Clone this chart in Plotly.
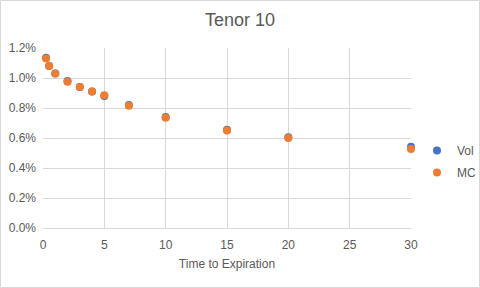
import plotly.graph_objects as go

x_vals = [0.25, 0.5, 1, 2, 3, 4, 5, 7, 10, 15, 20, 30]
vol = [0.01135, 0.0108, 0.0103, 0.0098, 0.0094, 0.0091, 0.0088, 0.0082, 0.0074, 0.00655, 0.00605, 0.00542]
mc = [0.0113, 0.0108, 0.0103, 0.00975, 0.0094, 0.0091, 0.00885, 0.00815, 0.00735, 0.0065, 0.006, 0.00527]

fig = go.Figure()
fig.add_trace(go.Scatter(x=x_vals, y=vol, mode="markers", name="Vol", legendgroup="a",
                         cliponaxis=False, marker=dict(color="#4472C4", size=8)))
fig.add_trace(go.Scatter(x=x_vals, y=mc, mode="markers", name="MC", legendgroup="b",
                         cliponaxis=False, marker=dict(color="#ED7D31", size=8)))

W, H = 480, 288
l, r, t, b = 43, 69, 48, 60
pw, ph = W - l - r, H - t - b

fig.update_layout(
    width=W, height=H,
    margin=dict(l=l, r=r, t=t, b=b, autoexpand=False),
    paper_bgcolor="white", plot_bgcolor="white",
    font=dict(family="Liberation Sans, Arial, sans-serif", color="#595959", size=12),
    title=dict(text="Tenor 10", x=0.5, xref="container", xanchor="center",
               y=1 - 20 / H, yref="container", yanchor="middle",
               font=dict(size=18, color="#595959")),
    xaxis=dict(range=[0, 30], dtick=5, showgrid=True, gridcolor="#D9D9D9", zeroline=False,
               showline=True, linecolor="#D9D9D9", ticks="", fixedrange=True,
               automargin=False, ticklabelstandoff=6,
               title=dict(text="Time to Expiration", font=dict(size=12, color="#595959"), standoff=8)),
    yaxis=dict(range=[0, 0.012], dtick=0.002, tickformat=".1%", showgrid=True,
               gridcolor="#D9D9D9", zeroline=False, showline=False, ticks="", fixedrange=True,
               automargin=False, ticklabelstandoff=6),
    legend=dict(xref="container", x=417 / W, xanchor="left",
                yref="container", y=1 - 136 / H, yanchor="top",
                font=dict(size=12, color="#595959"), bgcolor="rgba(0,0,0,0)", itemwidth=30,
                traceorder="grouped", tracegroupgap=3),
    showlegend=True,
    shapes=[dict(type="rect", xref="paper", yref="paper",
                 x0=-(l - 0.5) / pw, x1=1 + (r - 0.5) / pw,
                 y0=-(b - 0.5) / ph, y1=1 + (t - 0.5) / ph,
                 line=dict(color="#D9D9D9", width=1))],
)

fig.write_html("out.html", config={"displayModeBar": False},
               post_script="document.body.style.margin='0';")
